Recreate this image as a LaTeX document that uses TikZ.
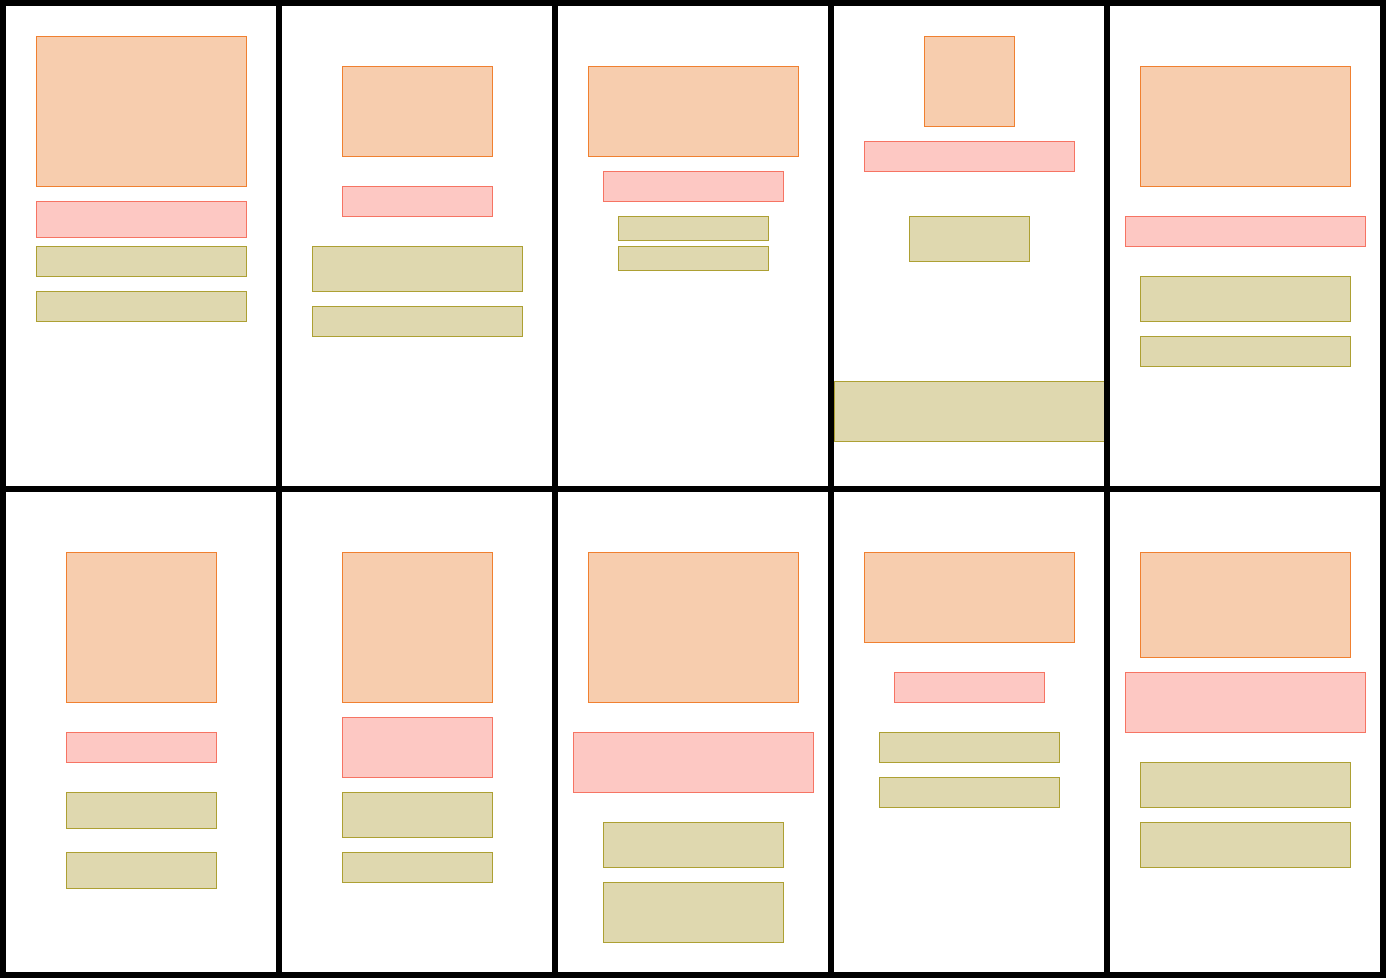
\documentclass[tikz,border=0pt]{standalone}
\definecolor{orfill}{HTML}{F7CDAE}
\definecolor{ordraw}{HTML}{F08030}
\definecolor{pkfill}{HTML}{FDC8C3}
\definecolor{pkdraw}{HTML}{F67463}
\definecolor{olfill}{HTML}{DFD8AF}
\definecolor{oldraw}{HTML}{ADA033}
\tikzset{
  obox/.style={fill=orfill,draw=ordraw,line width=1pt},
  pbox/.style={fill=pkfill,draw=pkdraw,line width=1pt},
  gbox/.style={fill=olfill,draw=oldraw,line width=1pt},
  panel/.style={draw=black,line width=6pt},
}
\begin{document}
\begin{tikzpicture}[x=1pt,y=-1pt]
\useasboundingbox[fill=white] (0,0) rectangle (1386,978);
% panel 1
\draw[obox] (36.5,36.5) rectangle (246.5,186.5);
\draw[pbox] (36.5,201.5) rectangle (246.5,237.5);
\draw[gbox] (36.5,246.5) rectangle (246.5,276.5);
\draw[gbox] (36.5,291.5) rectangle (246.5,321.5);
% panel 2
\draw[obox] (342.5,66.5) rectangle (492.5,156.5);
\draw[pbox] (342.5,186.5) rectangle (492.5,216.5);
\draw[gbox] (312.5,246.5) rectangle (522.5,291.5);
\draw[gbox] (312.5,306.5) rectangle (522.5,336.5);
% panel 3
\draw[obox] (588.5,66.5) rectangle (798.5,156.5);
\draw[pbox] (603.5,171.5) rectangle (783.5,201.5);
\draw[gbox] (618.5,216.5) rectangle (768.5,240.5);
\draw[gbox] (618.5,246.5) rectangle (768.5,270.5);
% panel 4
\draw[obox] (924.5,36.5) rectangle (1014.5,126.5);
\draw[pbox] (864.5,141.5) rectangle (1074.5,171.5);
\draw[gbox] (909.5,216.5) rectangle (1029.5,261.5);
\draw[gbox] (834.5,381.5) rectangle (1104.5,441.5);
% panel 5
\draw[obox] (1140.5,66.5) rectangle (1350.5,186.5);
\draw[pbox] (1125.5,216.5) rectangle (1365.5,246.5);
\draw[gbox] (1140.5,276.5) rectangle (1350.5,321.5);
\draw[gbox] (1140.5,336.5) rectangle (1350.5,366.5);
% panel 6
\draw[obox] (66.5,552.5) rectangle (216.5,702.5);
\draw[pbox] (66.5,732.5) rectangle (216.5,762.5);
\draw[gbox] (66.5,792.5) rectangle (216.5,828.5);
\draw[gbox] (66.5,852.5) rectangle (216.5,888.5);
% panel 7
\draw[obox] (342.5,552.5) rectangle (492.5,702.5);
\draw[pbox] (342.5,717.5) rectangle (492.5,777.5);
\draw[gbox] (342.5,792.5) rectangle (492.5,837.5);
\draw[gbox] (342.5,852.5) rectangle (492.5,882.5);
% panel 8
\draw[obox] (588.5,552.5) rectangle (798.5,702.5);
\draw[pbox] (573.5,732.5) rectangle (813.5,792.5);
\draw[gbox] (603.5,822.5) rectangle (783.5,867.5);
\draw[gbox] (603.5,882.5) rectangle (783.5,942.5);
% panel 9
\draw[obox] (864.5,552.5) rectangle (1074.5,642.5);
\draw[pbox] (894.5,672.5) rectangle (1044.5,702.5);
\draw[gbox] (879.5,732.5) rectangle (1059.5,762.5);
\draw[gbox] (879.5,777.5) rectangle (1059.5,807.5);
% panel 10
\draw[obox] (1140.5,552.5) rectangle (1350.5,657.5);
\draw[pbox] (1125.5,672.5) rectangle (1365.5,732.5);
\draw[gbox] (1140.5,762.5) rectangle (1350.5,807.5);
\draw[gbox] (1140.5,822.5) rectangle (1350.5,867.5);
% panel frames
\foreach \i in {0,...,4}{
  \foreach \j in {0,1}{
    \draw[panel] ({3+276*\i},{3+486*\j}) rectangle ({279+276*\i},{489+486*\j});
  }
}
\end{tikzpicture}
\end{document}
